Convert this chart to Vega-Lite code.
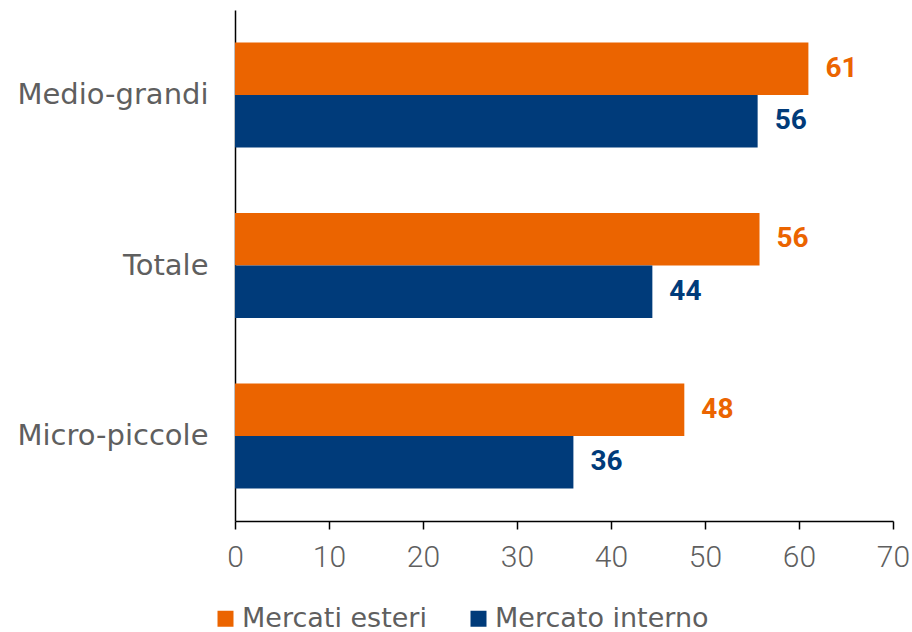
{
  "$schema": "https://vega.github.io/schema/vega-lite/v6.json",
  "width": 658,
  "height": 511,
  "autosize": {"type": "none"},
  "padding": {"left": 235, "top": 10, "right": 19, "bottom": 111},
  "background": "white",
  "config": {"view": {"stroke": null}, "font": "DejaVu Sans"},
  "data": {
    "values": [
      {"cat": "Medio-grandi", "series": "Mercati esteri", "value": 61.0, "label": 61},
      {"cat": "Medio-grandi", "series": "Mercato interno", "value": 55.6, "label": 56},
      {"cat": "Totale", "series": "Mercati esteri", "value": 55.8, "label": 56},
      {"cat": "Totale", "series": "Mercato interno", "value": 44.4, "label": 44},
      {"cat": "Micro-piccole", "series": "Mercati esteri", "value": 47.8, "label": 48},
      {"cat": "Micro-piccole", "series": "Mercato interno", "value": 36.0, "label": 36}
    ]
  },
  "encoding": {
    "y": {
      "field": "cat", "type": "nominal",
      "sort": ["Medio-grandi", "Totale", "Micro-piccole"],
      "scale": {"paddingInner": 0.383, "paddingOuter": 0.19},
      "axis": {"title": null, "ticks": false, "labelFontSize": 29, "labelColor": "#5f5f5f", "labelPadding": 27, "domainColor": "#000000", "domainWidth": 1.5, "labelFont": "DejaVu Sans", "labelLimit": 300}
    },
    "yOffset": {"field": "series", "type": "nominal", "sort": ["Mercati esteri", "Mercato interno"]},
    "x": {
      "field": "value", "type": "quantitative",
      "scale": {"domain": [0, 70]},
      "axis": {"title": null, "values": [0,10,20,30,40,50,60,70], "grid": false, "labelFlush": false, "labelOverlap": false, "labelFontSize": 30, "labelFontWeight": 300, "labelColor": "#5f5f5f", "tickColor": "#000000", "domainColor": "#000000", "domainWidth": 1.5, "tickWidth": 1.5, "tickSize": 8, "labelPadding": 13, "labelFont": "Roboto"}
    },
    "color": {
      "field": "series", "type": "nominal",
      "scale": {"domain": ["Mercati esteri", "Mercato interno"], "range": ["#EB6400", "#003B7A"]},
      "legend": {"title": null, "orient": "none", "direction": "horizontal", "legendX": -23, "legendY": 595, "symbolType": "square", "symbolSize": 256, "symbolStrokeWidth": 0, "labelFontSize": 27, "labelColor": "#5f5f5f", "labelFont": "DejaVu Sans", "labelLimit": 400, "columnPadding": 38, "labelOffset": 3, "padding": 0}
    }
  },
  "layer": [
    {"mark": {"type": "bar"}},
    {
      "mark": {"type": "text", "align": "left", "baseline": "middle", "dx": 17, "fontSize": 28, "fontWeight": "bold", "font": "Roboto"},
      "encoding": {"text": {"field": "label", "type": "quantitative"}}
    }
  ]
}
